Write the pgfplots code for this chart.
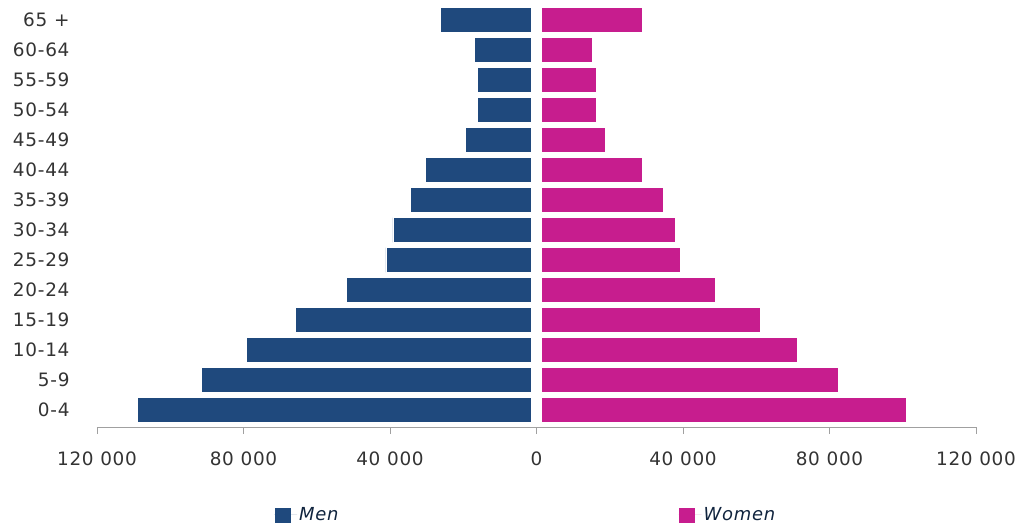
\documentclass[border=0pt]{standalone}
\usepackage{pgfplots}
\pgfplotsset{compat=1.18}
\usepackage{fontspec}
\setmainfont{DejaVu Sans}[LetterSpace=4]
\definecolor{menblue}{RGB}{31,73,125}
\definecolor{womenpink}{RGB}{199,29,142}
\definecolor{axgray}{RGB}{160,160,160}
\begin{document}
\begin{tikzpicture}
\begin{axis}[
  scale only axis, width=879bp, height=422bp,
  xbar, bar width=0.83, bar shift=0pt,
  xmin=-120000, xmax=120000,
  ymin=-0.567, ymax=13.5,
  axis y line*=left,
  y axis line style={draw=none},
  ytick style={draw=none},
  axis x line*=bottom,
  x axis line style={axgray, line width=1pt, -},
  scaled x ticks=false,
  xtick={-120000,-80000,-40000,0,40000,80000,120000},
  xticklabels={120 000,80 000,40 000,0,40 000,80 000,120 000},
  xtick style={axgray, line width=1pt},
  tick align=outside, major tick length=7bp,
  xticklabel style={font=\fontsize{18.5}{20}\selectfont, color=black!80, yshift=-14bp},
  ytick={0,...,13},
  yticklabels={0-4,5-9,10-14,15-19,20-24,25-29,30-34,35-39,40-44,45-49,50-54,55-59,60-64,65 +},
  yticklabel style={font=\fontsize{18.5}{20}\selectfont, color=black!80, xshift=-17bp},
  clip=false,
  legend columns=2,
  legend style={draw=none, fill=none, at={(0.4875,-0.2085)}, anchor=center,
    font=\fontsize{18}{20}\selectfont\itshape, text=menblue!50!black},
  /tikz/every even column/.append style={column sep=338bp},
  legend image code/.code={\fill[#1] (0bp,-8bp) rectangle (17bp,8bp);\path[draw=none] (0bp,0bp) -- (23bp,0bp);},
]
\addplot[fill=menblue, draw=white, line width=0.6pt] coordinates {
(-109000,0) (-91500,1) (-79200,2) (-65800,3) (-52000,4) (-41100,5) (-39200,6)
(-34500,7) (-30400,8) (-19500,9) (-16200,10) (-16200,11) (-17000,12) (-26300,13)};
\addlegendentry{Men}
\addplot[fill=womenpink, draw=white, line width=0.6pt] coordinates {
(101000,0) (82500,1) (71200,2) (61100,3) (48800,4) (39200,5) (37800,6)
(34500,7) (29000,8) (18900,9) (16200,10) (16200,11) (15300,12) (29000,13)};
\addlegendentry{Women}
\fill[white] (axis cs:-1400,-0.567) rectangle (axis cs:1400,13.5);
\end{axis}
\path (-97bp,-104bp) rectangle (927bp,427bp);
\end{tikzpicture}
\end{document}
